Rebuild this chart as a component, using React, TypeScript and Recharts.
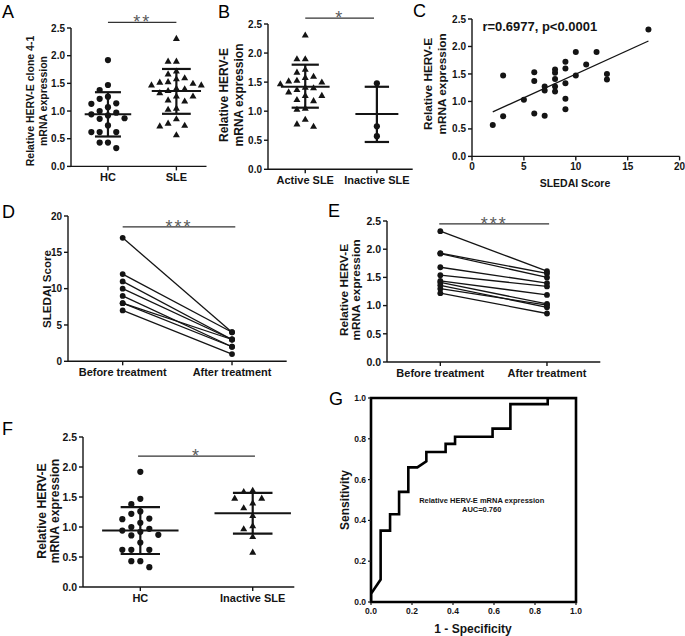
import React from 'react';
import { ScatterChart, Scatter, XAxis, YAxis, ReferenceLine, ReferenceDot, ReferenceArea } from 'recharts';

const FONT = "'Liberation Sans', Arial, Helvetica, sans-serif";
const INK = '#141414';
const STAR = '#5a5a5a';

// ---------------- data ----------------
// Panel A
const aCategories = ['HC', 'SLE'];
const hcValues = [1.92, 1.47, 1.38, 1.26, 1.22, 1.14, 1.13, 1.07, 1.0, 0.97, 0.94, 0.92, 0.87, 0.86, 0.74, 0.62, 0.62, 0.62, 0.43, 0.43, 0.33];
const sleValues = [2.31, 1.9, 1.9, 1.72, 1.67, 1.6, 1.58, 1.53, 1.52, 1.5, 1.47, 1.47, 1.41, 1.4, 1.37, 1.33, 1.27, 1.27, 1.2, 1.18, 1.05, 1.03, 0.86, 0.78, 0.74, 0.73, 0.57];
const aMean = [0.94, 1.36];
const aSdLow = [0.54, 0.95];
const aSdHigh = [1.34, 1.76];

// Panel B
const bCategories = ['Active SLE', 'Inactive SLE'];
const activeSleValues = [2.31, 1.9, 1.9, 1.72, 1.67, 1.6, 1.58, 1.53, 1.52, 1.5, 1.47, 1.41, 1.4, 1.37, 1.33, 1.27, 1.27, 1.2, 1.18, 1.05, 1.03, 0.86, 0.78, 0.74];
const inactiveSleValuesB = [1.48, 0.74, 0.57];
const bMean = [1.42, 0.95];
const bSdLow = [1.06, 0.47];
const bSdHigh = [1.8, 1.42];

// Panel C
const cSledai = [2, 3, 3, 5, 6, 6, 6, 7, 7, 7, 8, 8, 8, 8, 8, 9, 9, 9, 9, 9, 10, 10, 11, 12, 13, 13, 17];
const cHerv = [0.57, 1.47, 0.73, 1.03, 1.53, 1.37, 0.78, 1.27, 1.2, 0.74, 1.58, 1.52, 1.41, 1.27, 1.18, 1.72, 1.6, 1.33, 1.05, 0.86, 1.9, 1.47, 1.67, 1.9, 1.5, 1.4, 2.31];
const cFitX = [2, 17];
const cFitY = [0.81, 2.1];
const cCorrText = 'r=0.6977, p<0.0001';

// Panels D, E
const pairCategories = ['Before treatment', 'After treatment'];
const dBefore = [17, 12, 11, 10, 9, 8, 8, 7];
const dAfter = [4, 4, 3, 3, 2, 3, 2, 1];
const eBefore = [2.32, 1.93, 1.92, 1.68, 1.54, 1.44, 1.41, 1.36, 1.3, 1.22];
const eAfter = [1.61, 1.57, 1.5, 1.4, 1.34, 1.19, 1.03, 0.97, 1.01, 0.86];

// Panel F
const fCategories = ['HC', 'Inactive SLE'];
const fInactiveValues = [1.61, 1.59, 1.48, 1.48, 1.4, 1.32, 1.19, 1.02, 0.97, 0.84, 0.58];
const fMean = [0.94, 1.23];
const fSdLow = [0.55, 0.89];
const fSdHigh = [1.33, 1.57];

// Panel G (ROC)
const rocFpr = [0, 0, 0.047, 0.047, 0.093, 0.093, 0.137, 0.137, 0.182, 0.182, 0.226, 0.27, 0.27, 0.364, 0.364, 0.41, 0.41, 0.593, 0.593, 0.68, 0.68, 0.862, 0.862, 1];
const rocTpr = [0, 0.04, 0.11, 0.35, 0.35, 0.43, 0.43, 0.54, 0.54, 0.66, 0.66, 0.69, 0.735, 0.735, 0.775, 0.775, 0.81, 0.81, 0.85, 0.85, 0.97, 0.97, 1, 1];
const rocLabel = ['Relative HERV-E mRNA expression', 'AUC=0.760'];

const hervTicks = [0, 0.5, 1, 1.5, 2, 2.5];
const sledaiTicks = [0, 5, 10, 15, 20];
const rocTicks = [0, 0.2, 0.4, 0.6, 0.8, 1];

// ---------------- helpers ----------------
type Box = { left: number; top: number; right: number; bottom: number };
const PAD = { l: 60, t: 34, r: 14, b: 36 };
const axisStyle = { stroke: INK, strokeWidth: 1.4 };

function jitter(values: number[], center: number, stepPx: number, minPx: number, pxX: number, pxY: number) {
  const placed: { x: number; y: number }[] = [];
  const order = [...values].sort((a, b) => b - a);
  for (const v of order) {
    for (let k = 0; k < 14; k++) {
      const slot = k === 0 ? 0 : k % 2 === 1 ? -Math.ceil(k / 2) : Math.ceil(k / 2);
      const x = center + (slot * stepPx) / pxX;
      const ok = placed.every((p) => Math.hypot((p.x - x) * pxX, (p.y - v) * pxY) >= minPx);
      if (ok) {
        placed.push({ x, y: v });
        break;
      }
    }
  }
  return placed;
}

const circleShape = (r: number) => (p: any) => <circle cx={p.cx} cy={p.cy} r={r} fill={INK} />;
const triangleShape = (s: number) => (p: any) => {
  const h = s * 0.87;
  return (
    <path
      d={`M${p.cx},${p.cy - h * 0.6} L${p.cx + s / 2},${p.cy + h * 0.4} L${p.cx - s / 2},${p.cy + h * 0.4} Z`}
      fill={INK}
    />
  );
};
const emptyShape = () => <g />;

const starShape = (label: string, size: number) => (p: any) => (
  <text x={p.cx} y={p.cy + 6} textAnchor="middle" fontSize={size} fill={STAR} fontFamily={FONT} letterSpacing={2}>
    {label}
  </text>
);

function tickProps(size: number) {
  return { fontSize: size, fontWeight: 700, fill: INK, fontFamily: FONT };
}

function Frame({ box, children }: { box: Box; children: (w: number, h: number) => React.ReactNode }) {
  const w = box.right - box.left;
  const h = box.bottom - box.top;
  return (
    <div style={{ position: 'absolute', left: box.left - PAD.l, top: box.top - PAD.t }}>
      {children(w, h)}
    </div>
  );
}

type ColumnProps = {
  box: Box;
  xDomain: [number, number];
  categories: string[];
  groups: { values: number[]; shape: 'circle' | 'triangle' }[];
  mean: number[];
  sdLow: number[];
  sdHigh: number[];
  meanHalf: number[];
  capHalf: number[];
  sig: { y: number; x1: number; x2: number; label: string };
  stepPx: number;
  tickFont: number;
  catFont: number;
};

function ColumnPanel(props: ColumnProps) {
  const { box } = props;
  const w = box.right - box.left;
  const h = box.bottom - box.top;
  const pxX = w / (props.xDomain[1] - props.xDomain[0]);
  const pxY = h / 2.5;
  const series = props.groups.map((g, i) => jitter(g.values, i + 1, props.stepPx, props.stepPx * 0.92, pxX, pxY));
  return (
    <Frame box={box}>
      {(cw, ch) => (
        <ScatterChart width={cw + PAD.l + PAD.r} height={ch + PAD.t + PAD.b} margin={{ top: PAD.t, right: PAD.r, left: 0, bottom: 0 }}>
          <XAxis
            type="number"
            dataKey="x"
            domain={props.xDomain}
            allowDataOverflow
            ticks={[1, 2]}
            interval={0}
            tickFormatter={(v: number) => props.categories[Math.round(v) - 1]}
            height={PAD.b}
            tickSize={4}
            tickMargin={3}
            axisLine={axisStyle}
            tickLine={axisStyle}
            tick={tickProps(props.catFont)}
          />
          <YAxis
            type="number"
            dataKey="y"
            domain={[0, 2.5]}
            allowDataOverflow
            ticks={hervTicks}
            interval={0}
            width={PAD.l}
            tickFormatter={(v: number) => v.toFixed(1)}
            tickSize={4}
            tickMargin={2}
            axisLine={axisStyle}
            tickLine={axisStyle}
            tick={tickProps(props.tickFont)}
          />
          {series.map((pts, i) => (
            <Scatter
              key={'s' + i}
              data={pts}
              shape={props.groups[i].shape === 'circle' ? circleShape(3.1) : triangleShape(7)}
              isAnimationActive={false}
            />
          ))}
          {props.mean.map((m, i) => (
            <ReferenceLine key={'m' + i} segment={[{ x: i + 1 - props.meanHalf[i], y: m }, { x: i + 1 + props.meanHalf[i], y: m }]} stroke={INK} strokeWidth={2} ifOverflow="visible" />
          ))}
          {props.sdHigh.map((v, i) => (
            <ReferenceLine key={'h' + i} segment={[{ x: i + 1 - props.capHalf[i], y: v }, { x: i + 1 + props.capHalf[i], y: v }]} stroke={INK} strokeWidth={2.2} ifOverflow="visible" />
          ))}
          {props.sdLow.map((v, i) => (
            <ReferenceLine key={'l' + i} segment={[{ x: i + 1 - props.capHalf[i], y: v }, { x: i + 1 + props.capHalf[i], y: v }]} stroke={INK} strokeWidth={2.2} ifOverflow="visible" />
          ))}
          {props.sdLow.map((v, i) => (
            <ReferenceLine key={'v' + i} segment={[{ x: i + 1, y: v }, { x: i + 1, y: props.sdHigh[i] }]} stroke={INK} strokeWidth={2.2} ifOverflow="visible" />
          ))}
          <ReferenceLine segment={[{ x: props.sig.x1, y: props.sig.y }, { x: props.sig.x2, y: props.sig.y }]} stroke="#333" strokeWidth={1.3} ifOverflow="visible" />
          <ReferenceDot x={(props.sig.x1 + props.sig.x2) / 2} y={props.sig.y} r={0} ifOverflow="visible" shape={starShape(props.sig.label, 18)} />
        </ScatterChart>
      )}
    </Frame>
  );
}

type PairProps = {
  box: Box;
  before: number[];
  after: number[];
  yDomain: [number, number];
  yTicks: number[];
  decimals: number;
  sig: { y: number; x1: number; x2: number; label: string };
  tickFont: number;
  catFont: number;
};

function PairPanel(props: PairProps) {
  return (
    <Frame box={props.box}>
      {(cw, ch) => (
        <ScatterChart width={cw + PAD.l + PAD.r} height={ch + PAD.t + PAD.b} margin={{ top: PAD.t, right: PAD.r, left: 0, bottom: 0 }}>
          <XAxis
            type="number"
            dataKey="x"
            domain={[0.5, 2.5]}
            allowDataOverflow
            ticks={[1, 2]}
            interval={0}
            tickFormatter={(v: number) => pairCategories[Math.round(v) - 1]}
            height={PAD.b}
            tickSize={4}
            tickMargin={3}
            axisLine={axisStyle}
            tickLine={axisStyle}
            tick={tickProps(props.catFont)}
          />
          <YAxis
            type="number"
            dataKey="y"
            domain={props.yDomain}
            allowDataOverflow
            ticks={props.yTicks}
            interval={0}
            width={PAD.l}
            tickFormatter={(v: number) => v.toFixed(props.decimals)}
            tickSize={4}
            tickMargin={2}
            axisLine={axisStyle}
            tickLine={axisStyle}
            tick={tickProps(props.tickFont)}
          />
          {props.before.map((b, i) => (
            <Scatter
              key={'p' + i}
              data={[{ x: 1, y: b }, { x: 2, y: props.after[i] }]}
              line={{ stroke: INK, strokeWidth: 1.3 }}
              shape={circleShape(2.9)}
              isAnimationActive={false}
            />
          ))}
          <ReferenceLine segment={[{ x: props.sig.x1, y: props.sig.y }, { x: props.sig.x2, y: props.sig.y }]} stroke="#333" strokeWidth={1.3} ifOverflow="visible" />
          <ReferenceDot x={(props.sig.x1 + props.sig.x2) / 2} y={props.sig.y} r={0} ifOverflow="visible" shape={starShape(props.sig.label, 18)} />
        </ScatterChart>
      )}
    </Frame>
  );
}

function CorrPanel({ box }: { box: Box }) {
  const pts = cSledai.map((x, i) => ({ x, y: cHerv[i] }));
  return (
    <Frame box={box}>
      {(cw, ch) => (
        <ScatterChart width={cw + PAD.l + PAD.r} height={ch + PAD.t + PAD.b} margin={{ top: PAD.t, right: PAD.r, left: 0, bottom: 0 }}>
          <XAxis
            type="number"
            dataKey="x"
            domain={[0, 20]}
            allowDataOverflow
            ticks={sledaiTicks}
            interval={0}
            height={PAD.b}
            tickSize={4}
            tickMargin={3}
            axisLine={axisStyle}
            tickLine={axisStyle}
            tick={tickProps(10)}
          />
          <YAxis
            type="number"
            dataKey="y"
            domain={[0, 2.5]}
            allowDataOverflow
            ticks={hervTicks}
            interval={0}
            width={PAD.l}
            tickFormatter={(v: number) => v.toFixed(1)}
            tickSize={4}
            tickMargin={2}
            axisLine={axisStyle}
            tickLine={axisStyle}
            tick={tickProps(10)}
          />
          <ReferenceLine segment={[{ x: cFitX[0], y: cFitY[0] }, { x: cFitX[1], y: cFitY[1] }]} stroke={INK} strokeWidth={1.3} ifOverflow="visible" />
          <Scatter data={pts} shape={circleShape(3)} isAnimationActive={false} />
          <ReferenceDot
            x={1}
            y={2.36}
            r={0}
            ifOverflow="visible"
            shape={(p: any) => (
              <text x={p.cx} y={p.cy} dominantBaseline="central" fontSize={13} fontWeight={700} fill={INK} fontFamily={FONT}>
                {cCorrText}
              </text>
            )}
          />
        </ScatterChart>
      )}
    </Frame>
  );
}

function RocPanel({ box }: { box: Box }) {
  const pts = rocFpr.map((x, i) => ({ x, y: rocTpr[i] }));
  return (
    <Frame box={box}>
      {(cw, ch) => (
        <ScatterChart width={cw + PAD.l + PAD.r} height={ch + PAD.t + PAD.b} margin={{ top: PAD.t, right: PAD.r, left: 0, bottom: 0 }}>
          <XAxis
            type="number"
            dataKey="x"
            domain={[0, 1]}
            allowDataOverflow
            ticks={rocTicks}
            interval={0}
            tickFormatter={(v: number) => v.toFixed(1)}
            height={PAD.b}
            tickSize={3}
            tickMargin={3}
            axisLine={false}
            tickLine={{ stroke: INK, strokeWidth: 1.2 }}
            tick={tickProps(8.5)}
          />
          <YAxis
            type="number"
            dataKey="y"
            domain={[0, 1]}
            allowDataOverflow
            ticks={rocTicks}
            interval={0}
            width={PAD.l}
            tickFormatter={(v: number) => v.toFixed(1)}
            tickSize={3}
            tickMargin={2}
            axisLine={false}
            tickLine={{ stroke: INK, strokeWidth: 1.2 }}
            tick={tickProps(8.5)}
          />
          <ReferenceArea x1={0} x2={1} y1={0} y2={1} fill="none" fillOpacity={0} stroke="#000" strokeWidth={2.6} ifOverflow="visible" />
          <Scatter data={pts} line={{ stroke: '#000', strokeWidth: 2.6 }} shape={emptyShape} isAnimationActive={false} />
          <ReferenceDot
            x={0.54}
            y={0.48}
            r={0}
            ifOverflow="visible"
            shape={(p: any) => (
              <text x={p.cx} y={p.cy} textAnchor="middle" fontSize={7.5} fontWeight={700} fill={INK} fontFamily={FONT}>
                <tspan x={p.cx} dy={-1}>{rocLabel[0]}</tspan>
                <tspan x={p.cx} dy={8.5}>{rocLabel[1]}</tspan>
              </text>
            )}
          />
        </ScatterChart>
      )}
    </Frame>
  );
}

// ---------------- overlay text (panel letters, axis titles) ----------------
const letters = [
  { t: 'A', x: 2, y: 18 },
  { t: 'B', x: 218, y: 18 },
  { t: 'C', x: 413, y: 17 },
  { t: 'D', x: 2, y: 218 },
  { t: 'E', x: 328, y: 217 },
  { t: 'F', x: 2, y: 435 },
  { t: 'G', x: 329, y: 405 },
];

const yTitles = [
  { lines: ['Relative HERV-E clone 4-1', 'mRNA expression'], xs: [30, 43], cy: 101, size: 10.5 },
  { lines: ['Relative HERV-E', 'mRNA expression'], xs: [223.5, 238.5], cy: 95, size: 12 },
  { lines: ['Relative HERV-E', 'mRNA expression'], xs: [428, 442], cy: 84, size: 11.8 },
  { lines: ['SLEDAI Score'], xs: [46.7], cy: 289, size: 11.6 },
  { lines: ['Relative HERV-E', 'mRNA expression'], xs: [343.5, 355.5], cy: 290, size: 11.8 },
  { lines: ['Relative HERV-E', 'mRNA expression'], xs: [41.7, 55], cy: 511, size: 12.2 },
  { lines: ['Sensitivity'], xs: [345], cy: 500, size: 12 },
];

const xTitles = [
  { t: 'SLEDAI Score', x: 575, cy: 183, size: 10.5 },
  { t: '1 - Specificity', x: 473, cy: 629, size: 12 },
];

function Overlay() {
  return (
    <svg width={685} height={636} style={{ position: 'absolute', left: 0, top: 0, pointerEvents: 'none' }}>
      {letters.map((l) => (
        <text key={l.t} x={l.x} y={l.y} fontSize={18} fill="#000" fontFamily={FONT}>
          {l.t}
        </text>
      ))}
      {yTitles.map((t, i) =>
        t.lines.map((line, j) => (
          <text
            key={i + '-' + j}
            transform={`translate(${t.xs[j]},${t.cy}) rotate(-90)`}
            textAnchor="middle"
            dominantBaseline="central"
            fontSize={t.size}
            fontWeight={700}
            fill={INK}
            fontFamily={FONT}
          >
            {line}
          </text>
        ))
      )}
      {xTitles.map((t) => (
        <text key={t.t} x={t.x} y={t.cy} textAnchor="middle" dominantBaseline="central" fontSize={t.size} fontWeight={700} fill={INK} fontFamily={FONT}>
          {t.t}
        </text>
      ))}
    </svg>
  );
}

export default function App() {
  return (
    <div style={{ position: 'absolute', left: 0, top: 0, width: 685, height: 636, background: '#fff', overflow: 'hidden', fontFamily: FONT }}>
      <ColumnPanel
        box={{ left: 70.5, top: 28.3, right: 206, bottom: 166.7 }}
        xDomain={[0.46, 2.44]}
        categories={aCategories}
        groups={[
          { values: hcValues, shape: 'circle' },
          { values: sleValues, shape: 'triangle' },
        ]}
        mean={aMean}
        sdLow={aSdLow}
        sdHigh={aSdHigh}
        meanHalf={[0.34, 0.36]}
        capHalf={[0.19, 0.21]}
        sig={{ y: 2.6, x1: 1, x2: 2, label: '**' }}
        stepPx={8.3}
        tickFont={10}
        catFont={11}
      />
      <ColumnPanel
        box={{ left: 268.3, top: 24, right: 413, bottom: 169.3 }}
        xDomain={[0.48, 2.5]}
        categories={bCategories}
        groups={[
          { values: activeSleValues, shape: 'triangle' },
          { values: inactiveSleValuesB, shape: 'circle' },
        ]}
        mean={bMean}
        sdLow={bSdLow}
        sdHigh={bSdHigh}
        meanHalf={[0.34, 0.3]}
        capHalf={[0.19, 0.17]}
        sig={{ y: 2.6, x1: 1, x2: 1.96, label: '*' }}
        stepPx={8.3}
        tickFont={10}
        catFont={11}
      />
      <CorrPanel box={{ left: 471.7, top: 19.3, right: 679.3, bottom: 156.7 }} />
      <PairPanel
        box={{ left: 68.3, top: 216, right: 287, bottom: 361.3 }}
        before={dBefore}
        after={dAfter}
        yDomain={[0, 20]}
        yTicks={sledaiTicks}
        decimals={0}
        sig={{ y: 18.5, x1: 1, x2: 2.03, label: '***' }}
        tickFont={10}
        catFont={11}
      />
      <PairPanel
        box={{ left: 386.7, top: 220.7, right: 600, bottom: 361.7 }}
        before={eBefore}
        after={eAfter}
        yDomain={[0, 2.5]}
        yTicks={hervTicks}
        decimals={1}
        sig={{ y: 2.45, x1: 0.99, x2: 2.02, label: '***' }}
        tickFont={10.5}
        catFont={11}
      />
      <ColumnPanel
        box={{ left: 82.7, top: 437.3, right: 294, bottom: 587.3 }}
        xDomain={[0.49, 2.37]}
        categories={fCategories}
        groups={[
          { values: hcValues, shape: 'circle' },
          { values: fInactiveValues, shape: 'triangle' },
        ]}
        mean={fMean}
        sdLow={fSdLow}
        sdHigh={fSdHigh}
        meanHalf={[0.34, 0.34]}
        capHalf={[0.175, 0.176]}
        sig={{ y: 2.18, x1: 0.98, x2: 2.02, label: '*' }}
        stepPx={9}
        tickFont={10.5}
        catFont={11}
      />
      <RocPanel box={{ left: 371, top: 398, right: 576, bottom: 602 }} />
      <Overlay />
    </div>
  );
}
